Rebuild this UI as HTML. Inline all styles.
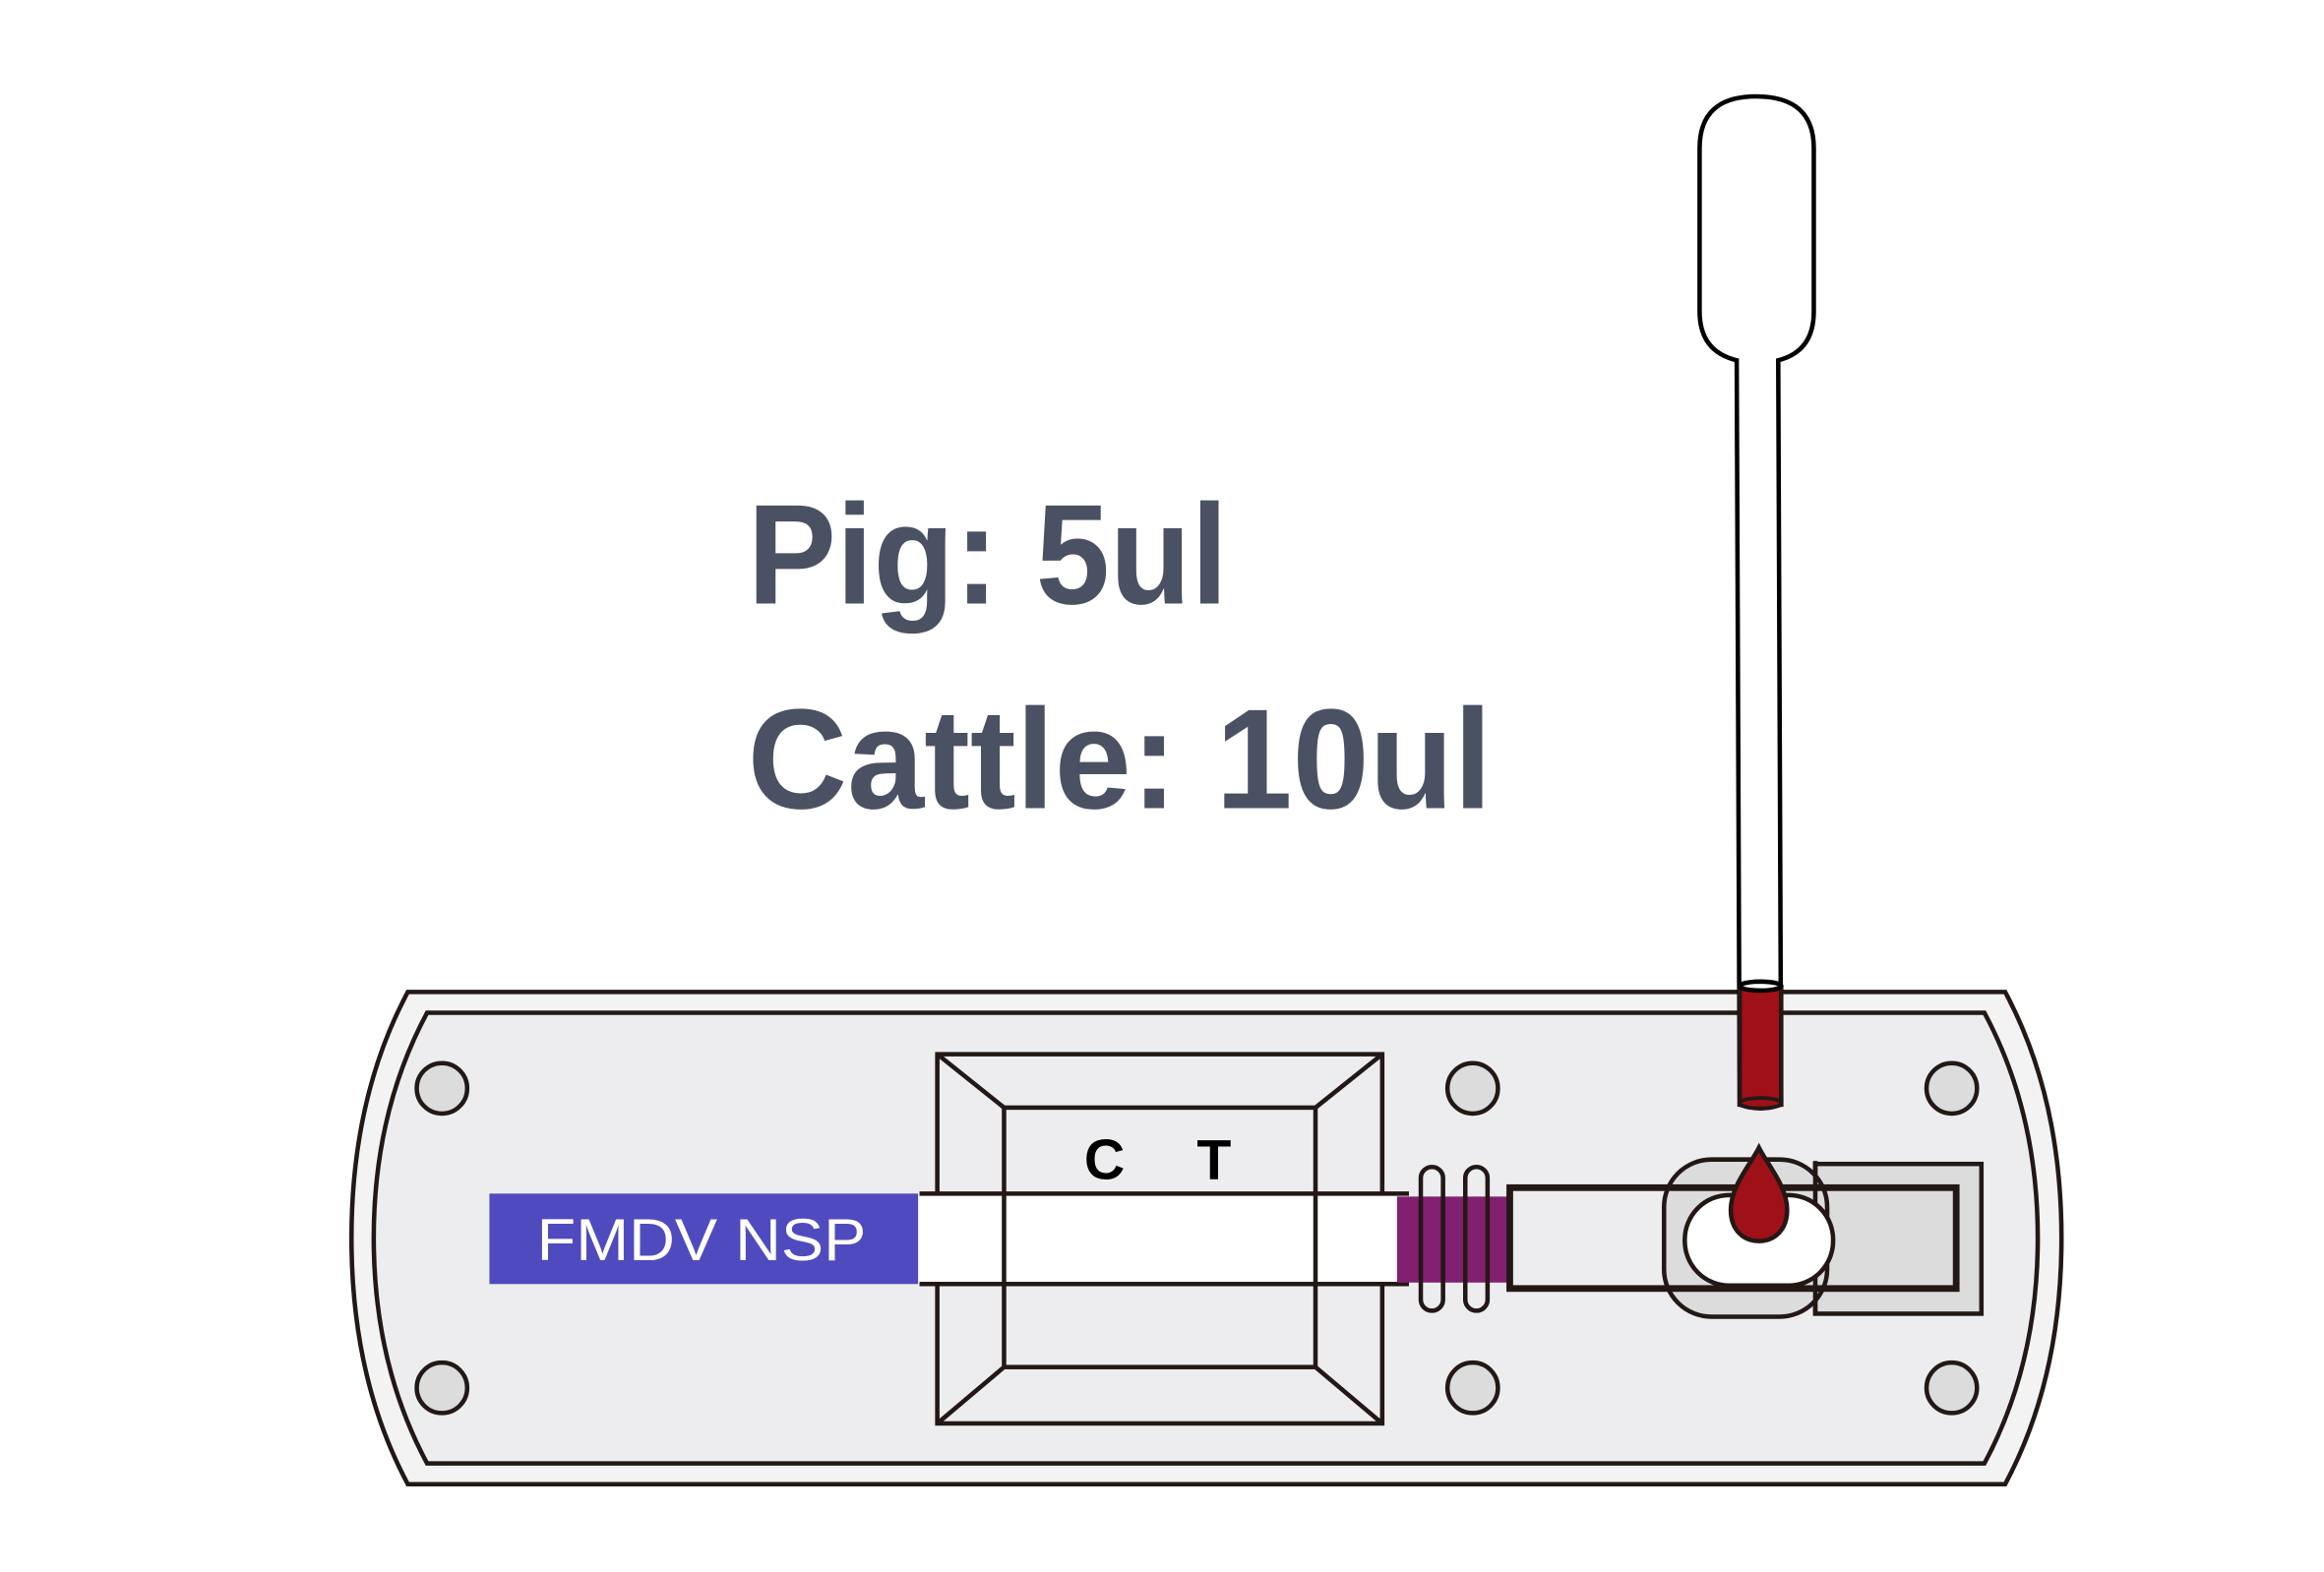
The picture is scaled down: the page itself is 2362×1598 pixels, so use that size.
<!DOCTYPE html>
<html><head><meta charset="utf-8"><style>
html,body{margin:0;padding:0;background:#fff;}
svg{display:block;}
</style></head><body>
<svg width="2362" height="1598" viewBox="0 0 1567 1060.2" preserveAspectRatio="none" xmlns="http://www.w3.org/2000/svg">
<rect width="1567" height="1061" fill="#fff"/>
<g font-family="Liberation Sans, sans-serif" font-weight="bold" fill="#4a5163" font-size="96">
<text x="504" y="407" textLength="324" lengthAdjust="spacingAndGlyphs">Pig: 5ul</text>
<text x="504" y="545" textLength="502" lengthAdjust="spacingAndGlyphs">Cattle: 10ul</text>
</g>
<path d="M275,669 L1352,669 Q1390,740 1390,835 Q1390,930 1352,1001 L275,1001 Q237,930 237,835 Q237,740 275,669 Z" fill="#f3f3f3" stroke="#231815" stroke-width="3"/>
<path d="M288,683 L1338,683 Q1374,750 1374,835 Q1374,920 1338,987 L288,987 Q252,920 252,835 Q252,750 288,683 Z" fill="#ededef" stroke="#231815" stroke-width="3"/>
<g fill="#dcdcdc" stroke="#231815" stroke-width="3">
<circle cx="298" cy="734" r="17"/><circle cx="298" cy="936" r="17"/>
<circle cx="993" cy="734" r="17"/><circle cx="993" cy="936" r="17"/>
<circle cx="1316" cy="734" r="17"/><circle cx="1316" cy="936" r="17"/>
</g>
<g fill="none" stroke="#231815" stroke-width="3">
<rect x="632" y="711" width="300" height="249"/>
<rect x="677" y="747" width="210" height="175"/>
<line x1="632" y1="711" x2="677" y2="747"/><line x1="932" y1="711" x2="887" y2="747"/>
<line x1="632" y1="960" x2="677" y2="922"/><line x1="932" y1="960" x2="887" y2="922"/>
</g>
<text x="731" y="795" font-family="Liberation Sans, sans-serif" font-weight="bold" font-size="38" fill="#000">C</text>
<text x="807" y="795" font-family="Liberation Sans, sans-serif" font-weight="bold" font-size="38" fill="#000">T</text>
<rect x="620" y="806" width="322" height="59" fill="#fff"/>
<line x1="620" y1="805" x2="950" y2="805" stroke="#231815" stroke-width="3"/>
<line x1="620" y1="866" x2="950" y2="866" stroke="#231815" stroke-width="3"/>
<line x1="677" y1="805" x2="677" y2="866" stroke="#231815" stroke-width="3"/>
<line x1="887" y1="805" x2="887" y2="866" stroke="#231815" stroke-width="3"/>
<rect x="330" y="805" width="289" height="61" fill="#4f4bbf"/>
<text x="362" y="850" font-family="Liberation Sans, sans-serif" font-size="40" fill="#fff" textLength="222" lengthAdjust="spacingAndGlyphs">FMDV NSP</text>
<rect x="942" y="807" width="75" height="58" fill="#822070"/>
<g fill="none" stroke="#231815" stroke-width="3">
<rect x="958" y="787" width="15" height="97" rx="7.5"/>
<rect x="988" y="787" width="15" height="97" rx="7.5"/>
</g>
<rect x="1017" y="801" width="303" height="68" fill="#ededef"/>
<rect x="1224" y="785" width="112" height="101" fill="#dcdcdc" stroke="#231815" stroke-width="3"/>
<rect x="1122" y="782" width="110" height="106" rx="32" fill="#dcdcdc" stroke="#231815" stroke-width="3"/>
<line x1="1224" y1="783" x2="1224" y2="887" stroke="#231815" stroke-width="3"/>
<rect x="1018" y="801" width="301" height="68" fill="none" stroke="#231815" stroke-width="4.5"/>
<rect x="1136" y="806" width="100" height="61" rx="30" fill="#fff" stroke="#231815" stroke-width="3"/>
<path d="M1186,774 C1180,786 1167,800 1167,816 C1167,830 1176,837 1186,837 C1196,837 1205,830 1205,816 C1205,800 1192,786 1186,774 Z" fill="#a01018" stroke="#231815" stroke-width="3"/>
<path d="M1171,243 Q1146,237 1146,210 L1146,100 Q1146,65 1184,65 Q1223,65 1223,100 L1223,210 Q1223,237 1199,243 L1201,745 L1173,745 Z" fill="#fff" stroke="#000" stroke-width="3"/>
<path d="M1173,666 L1201,666 L1201,745 Q1187,750 1173,745 Z" fill="#a01018" stroke="#231815" stroke-width="3"/>
<ellipse cx="1187" cy="665" rx="14" ry="3" fill="#fff" stroke="#000" stroke-width="3"/>
<ellipse cx="1187" cy="744" rx="14" ry="3.5" fill="#a01018" stroke="#231815" stroke-width="2.5"/>
</svg>
</body></html>
